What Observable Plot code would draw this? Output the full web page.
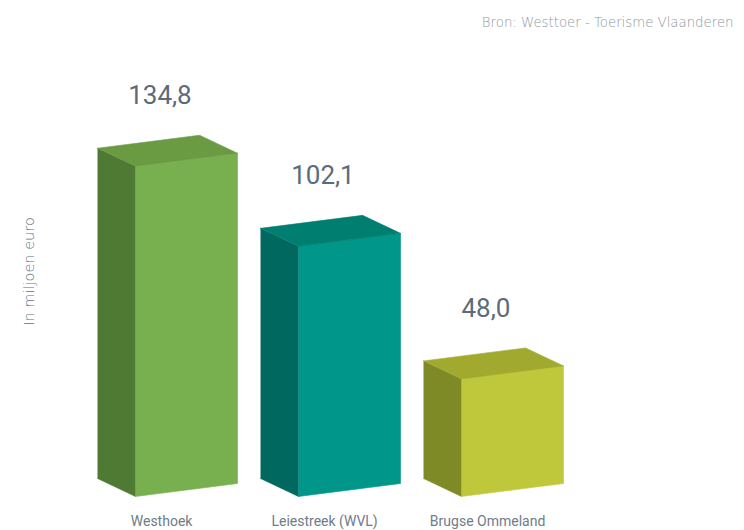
<!DOCTYPE html>
<html><head><meta charset="utf-8">
<script src="https://cdn.jsdelivr.net/npm/d3@7"></script>
<script src="https://cdn.jsdelivr.net/npm/@observablehq/plot@0.6"></script>
<style>body{margin:0;background:#fff}</style>
</head><body><div id="chart"></div>
<script>
const categories = ["Westhoek", "Leiestreek (WVL)", "Brugse Ommeland"];
const values = [134.8, 102.1, 48.0];
const frontColors = ["#79b04f", "#009689", "#bfc83b"];
const sideColors = ["#4e7a33", "#00685f", "#7e8a25"];
const topColors = ["#6a9b43", "#007f71", "#a1aa2e"];
const source = "Bron: Westtoer - Toerisme Vlaanderen";
const yLabel = "In miljoen euro";

// oblique box geometry (scale units)
const W = 0.626, DX = -0.233, DY = 7.35, SLOPE = 5.3;

const faces = [];
values.forEach((v, i) => {
  const poly = (name, color, pts) =>
    pts.forEach(([x, y]) => faces.push({id: i + "-" + name, color, x, y}));
  poly("side", sideColors[i], [[i + DX, DY], [i, 0], [i, v], [i + DX, v + DY]]);
  poly("front", frontColors[i], [[i, 0], [i + W, SLOPE], [i + W, v + SLOPE], [i, v]]);
  poly("top", topColors[i], [[i, v], [i + W, v + SLOPE], [i + W + DX, v + SLOPE + DY], [i + DX, v + DY]]);
});
const bars = values.map((v, i) => ({i, v, cat: categories[i], label: v.toFixed(1).replace(".", ",")}));

const chart = Plot.plot({
  width: 744, height: 530,
  marginLeft: 0, marginRight: 0, marginTop: 6, marginBottom: 34,
  x: {domain: [0, 1], range: [135, 298], axis: null},
  y: {domain: [0, 200], axis: null},
  color: {type: "identity"},
  style: {background: "#fff"},
  marks: [
    Plot.line(faces, {x: "x", y: "y", z: "id", fill: "color", stroke: "color", strokeWidth: 0.6}),
    Plot.text(bars, {x: d => d.i + 0.15, y: "v", text: "label", dy: -62, lineAnchor: "bottom",
      fontSize: 26, fontFamily: "Roboto", fill: "#5b6b7b", textAnchor: "middle"}),
    Plot.text(bars, {x: d => d.i + 0.16, y: 0, text: "cat", dy: 29, lineAnchor: "bottom",
      fontSize: 14, fontFamily: "Roboto", fill: "#707c88", textAnchor: "middle"}),
    Plot.text([source], {text: d => d, frameAnchor: "top-right", dx: -11, dy: 11, lineAnchor: "top",
      fontSize: 13.3, fontFamily: "DejaVu Sans", fontWeight: 200, fill: "#8e99a4", textAnchor: "end"}),
    Plot.text([yLabel], {text: d => d, frameAnchor: "left", dx: 29, dy: 20, rotate: -90,
      fontSize: 14.5, fontFamily: "DejaVu Sans", fontWeight: 200, fill: "#5f7080", textAnchor: "middle"})
  ]
});
document.getElementById("chart").append(chart);
</script>
</body></html>
